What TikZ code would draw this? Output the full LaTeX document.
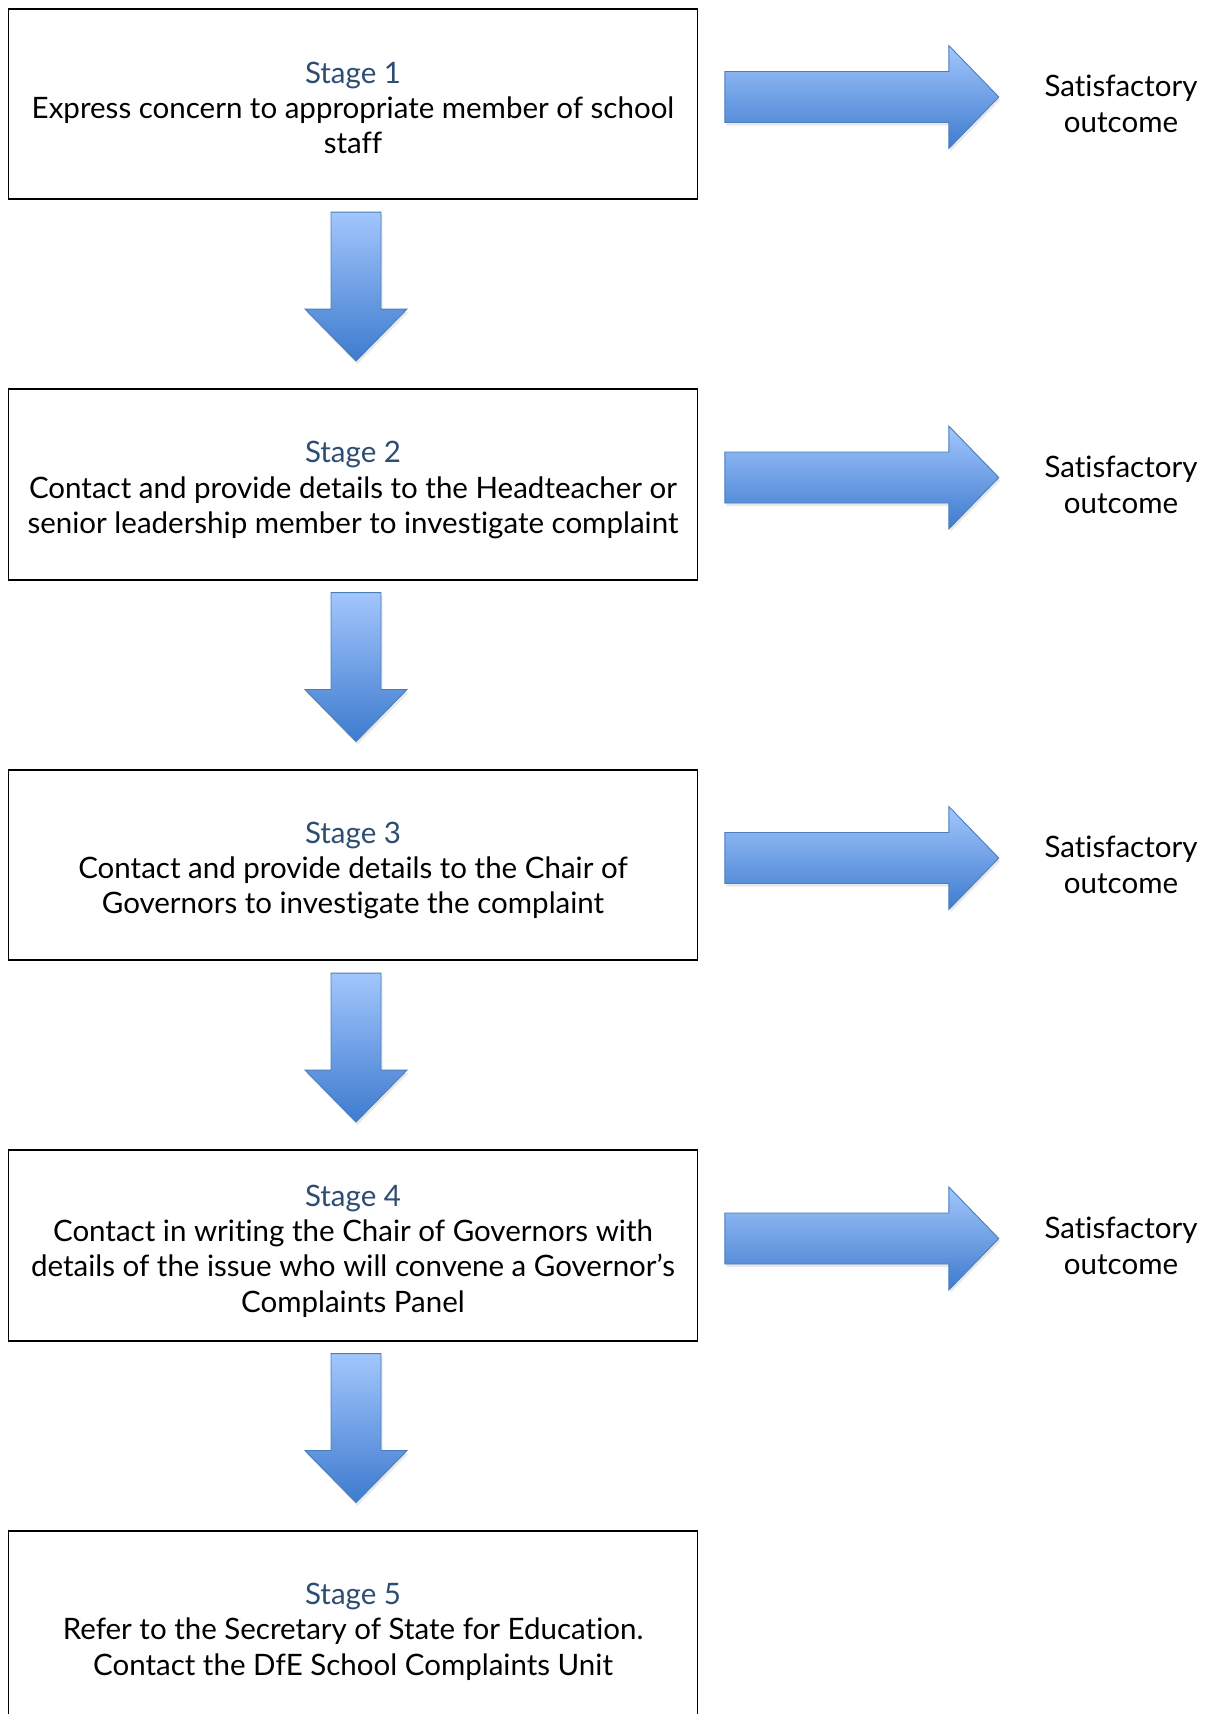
\documentclass[tikz,border=0pt]{standalone}
\usepackage{fontspec}
\setmainfont{Lato}[Ligatures={NoCommon}]
\usetikzlibrary{calc,shadows}
\definecolor{stagecol}{HTML}{2E4D73}
\definecolor{arrtop}{HTML}{A2C6FC}
\definecolor{arrbot}{HTML}{3E7BCF}
\definecolor{arredge}{HTML}{4A7EBB}
\tikzset{
  stagebox/.style={draw=black, line width=1.6pt, minimum width=689pt, minimum height=190.5pt, inner sep=0pt},
  stagetext/.style={align=center, font=\fontsize{29.5}{35.4}\selectfont, inner sep=0pt},
  outcome/.style={align=center, font=\fontsize{29.5}{36}\selectfont, inner sep=0pt},
  blockarrow/.style={draw=arredge, line width=0.9pt, line join=miter, top color=arrtop, bottom color=arrbot,
    drop shadow={opacity=0.18, shadow xshift=1.5pt, shadow yshift=-3pt}},
}
\newcommand\downblock[1]{%
  \path[blockarrow] ($(#1)+(-25,0)$) -- ($(#1)+(25,0)$) -- ($(#1)+(25,97)$) -- ($(#1)+(51,97)$)
    -- ($(#1)+(0,149)$) -- ($(#1)+(-51,97)$) -- ($(#1)+(-25,97)$) -- cycle;}
\newcommand\rightblock[1]{%
  \path[blockarrow] ($(#1)+(0,-25.5)$) -- ($(#1)+(224,-25.5)$) -- ($(#1)+(224,-51.5)$) -- ($(#1)+(274,0)$)
    -- ($(#1)+(224,51.5)$) -- ($(#1)+(224,25.5)$) -- ($(#1)+(0,25.5)$) -- cycle;}
\begin{document}
\begin{tikzpicture}[x=1pt,y=-1pt]
\useasboundingbox (0,0) rectangle (1207,1714);
\clip (0,0) rectangle (1207,1714);
\fill[white] (0,0) rectangle (1207,1714);

\node[stagebox] (b1) at (353,104) {};
\node[stagebox] (b2) at (353,484.5) {};
\node[stagebox] (b3) at (353,865) {};
\node[stagebox] (b4) at (353,1245.5) {};
\node[stagebox] (b5) at (353,1626) {};

\node[stagetext] (t1) at ($(b1.center)+(0,4)$) {{\color{stagecol}Stage 1}\\Express concern to appropriate member of school\\staff};
\node[stagetext] (t2) at ($(b2.center)+(0,5.5)$) {{\color{stagecol}Stage 2}\\Contact and provide details to the Headteacher or\\senior leadership member to investigate complaint};
\node[stagetext] (t3) at ($(b3.center)+(0,5.5)$) {{\color{stagecol}Stage 3}\\Contact and provide details to the Chair of\\Governors to investigate the complaint};
\node[stagetext] (t4) at ($(b4.center)+(0,5.5)$) {{\color{stagecol}Stage 4}\\Contact in writing the Chair of Governors with\\details of the issue who will convene a Governor’s\\Complaints Panel};
\node[stagetext] (t5) at ($(b5.center)+(0,5.5)$) {{\color{stagecol}Stage 5}\\Refer to the Secretary of State for Education.\\Contact the DfE School Complaints Unit};

\foreach \i/\y in {1/104,2/484.5,3/865,4/1245.5}{
  \node[outcome] (s\i) at (1121,\y) {Satisfactory\\outcome};
}

\foreach \i in {1,2,3,4}{
  \coordinate (r\i) at ($(b\i.east)+(26.5,-7)$);
  \rightblock{r\i}
}
\foreach \i/\j in {1/2,2/3,3/4,4/5}{
  \coordinate (d\i) at ($(b\i.south)+(3,12)$);
  \downblock{d\i}
}
\end{tikzpicture}
\end{document}
